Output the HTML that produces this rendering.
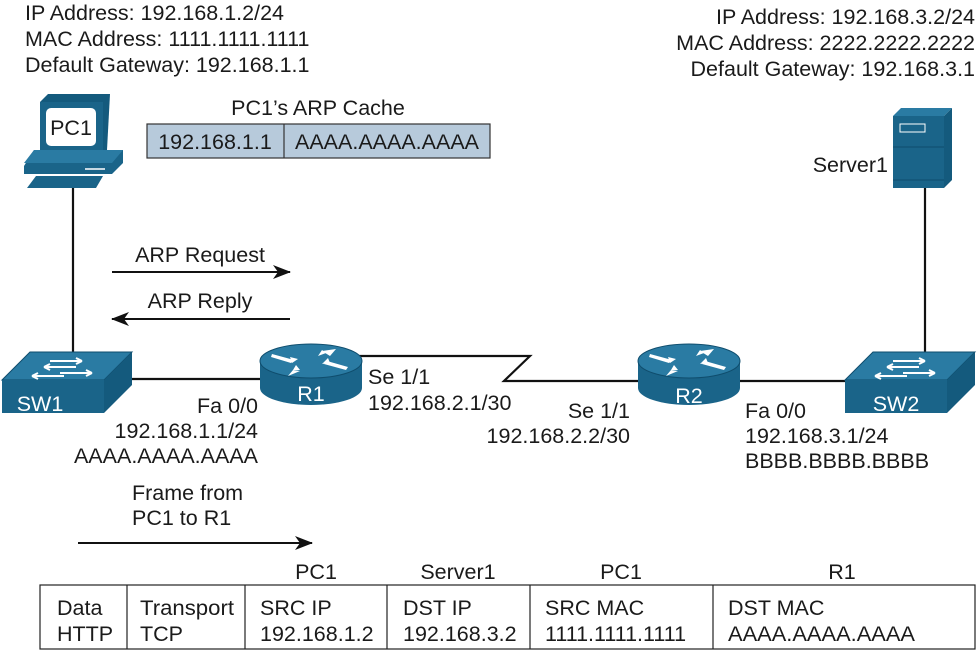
<!DOCTYPE html>
<html><head><meta charset="utf-8"><style>
html,body{margin:0;padding:0;background:#fff;}
svg{display:block;}
text{font-family:"Liberation Sans",sans-serif;font-size:21.5px;fill:#1a1a1a;}
.w{fill:#fff;}
</style></head><body>
<svg width="978" height="667" viewBox="0 0 978 667" xmlns="http://www.w3.org/2000/svg">
<defs>
<marker id="ah" markerWidth="18" markerHeight="14" refX="17" refY="7" orient="auto" markerUnits="userSpaceOnUse"><path d="M0,0 L18,7 L0,14 L5,7 Z" fill="#111"/></marker>
<g id="router">
<path d="M0,17 L0,44 A51,17 0 0 0 102,44 L102,17 Z" fill="#1a6489"/>
<ellipse cx="51" cy="17" rx="51" ry="17" fill="#2a7ba3" stroke="#0f4d6d" stroke-width="1"/>
<path d="M12,10 L34,16 L31,19 L11,13 Z M40,27 L28,32 L33,26 Z M62,7 L76,5 L70,12 Z M86,26 L64,20 L67,17 L88,23 Z" fill="#fff"/>
<path d="M30,13 l8,2 -6,4z M58,12 l4,-6 4,3z M40,26 l-4,-5 -3,5z M62,20 l6,-6 2,5z" fill="#fff"/>
</g>
<g id="switch">
<path d="M0,28 L28,0 L130,0 L102,28 Z" fill="#2a7ba3" stroke="#0f4d6d" stroke-width="1"/>
<path d="M102,28 L130,0 L130,33 L102,61 Z" fill="#145a7d"/>
<rect x="0" y="28" width="102" height="33" fill="#1a6489"/>
<path d="M48,9 L80,9 M80,9 l-6,-3 M80,9 l-6,3 M74,15 L42,15 M42,15 l6,-3 M42,15 l6,3 M58,21 L90,21 M90,21 l-6,-3 M90,21 l-6,3 M62,24 L30,24 M30,24 l6,-3 M30,24 l6,3" stroke="#fff" stroke-width="2" fill="none"/>
</g>
</defs>

<text x="25" y="20">IP Address: 192.168.1.2/24</text>
<text x="25" y="46">MAC Address: 1111.1111.1111</text>
<text x="25" y="72">Default Gateway: 192.168.1.1</text>
<text x="975" y="24" text-anchor="end">IP Address: 192.168.3.2/24</text>
<text x="975" y="50" text-anchor="end">MAC Address: 2222.2222.2222</text>
<text x="975" y="76" text-anchor="end">Default Gateway: 192.168.3.1</text>

<text x="318" y="115" text-anchor="middle">PC1’s ARP Cache</text>
<rect x="147" y="124" width="343" height="34" fill="#b7cadb" stroke="#333" stroke-width="1.2"/>
<line x1="284" y1="124" x2="284" y2="158" stroke="#333" stroke-width="1.2"/>
<text x="215" y="149" text-anchor="middle">192.168.1.1</text>
<text x="387" y="149" text-anchor="middle">AAAA.AAAA.AAAA</text>

<g stroke="#111" stroke-width="2.2" fill="none">
<line x1="73" y1="186" x2="73" y2="352"/>
<line x1="130" y1="379" x2="262" y2="379"/>
<polyline points="358,356 530,356 504,381 640,381"/>
<line x1="738" y1="381" x2="848" y2="381"/>
<line x1="925" y1="188" x2="925" y2="352"/>
</g>

<g>
<path d="M40,102 L48,94 L110,94 L107,150 L40,152 Z" fill="#145a7d"/>
<rect x="40" y="102" width="63" height="50" fill="#1a6489"/>
<rect x="46" y="108" width="50" height="38" rx="5" fill="#fff"/>
<text x="71" y="135" text-anchor="middle">PC1</text>
<path d="M24,166 L34,150 L123,150 L123,163 L112,174 L24,174 Z" fill="#1a6489"/>
<path d="M34,150 L123,150 L112,163 L24,163 Z" fill="#2a7ba3"/>
<line x1="85" y1="169" x2="105" y2="169" stroke="#fff" stroke-width="1.5"/>
<path d="M27,188 L36,176 L103,176 L96,188 Z" fill="#1a6489"/>
</g>

<g>
<path d="M893,116 L901,108 L952,108 L944,116 Z" fill="#2a7ba3"/>
<path d="M944,116 L952,108 L952,180 L944,188 Z" fill="#145a7d"/>
<rect x="893" y="116" width="51" height="72" fill="#1a6489"/>
<rect x="900" y="124" width="25" height="8" fill="none" stroke="#fff" stroke-width="1"/>
<line x1="893" y1="147" x2="944" y2="147" stroke="#0f4d6d"/>
<line x1="893" y1="180" x2="944" y2="180" stroke="#0f4d6d"/>
</g>
<text x="888" y="172" text-anchor="end">Server1</text>

<use href="#switch" x="2" y="352"/>
<text x="40" y="411" class="w" text-anchor="middle">SW1</text>
<use href="#switch" x="845" y="352"/>
<text x="896" y="411" class="w" text-anchor="middle">SW2</text>

<use href="#router" x="260" y="344"/>
<text x="311" y="401" class="w" text-anchor="middle">R1</text>
<use href="#router" x="638" y="344"/>
<text x="689" y="403" class="w" text-anchor="middle">R2</text>

<text x="200" y="262" text-anchor="middle">ARP Request</text>
<line x1="112" y1="272" x2="290" y2="272" stroke="#111" stroke-width="2" marker-end="url(#ah)"/>
<text x="200" y="308" text-anchor="middle">ARP Reply</text>
<line x1="290" y1="319" x2="112" y2="319" stroke="#111" stroke-width="2" marker-end="url(#ah)"/>

<text x="258" y="413" text-anchor="end">Fa 0/0</text>
<text x="258" y="438" text-anchor="end">192.168.1.1/24</text>
<text x="258" y="463" text-anchor="end">AAAA.AAAA.AAAA</text>
<text x="368" y="384">Se 1/1</text>
<text x="368" y="410">192.168.2.1/30</text>
<text x="630" y="418" text-anchor="end">Se 1/1</text>
<text x="630" y="443" text-anchor="end">192.168.2.2/30</text>
<text x="745" y="418">Fa 0/0</text>
<text x="745" y="443">192.168.3.1/24</text>
<text x="745" y="468">BBBB.BBBB.BBBB</text>

<text x="132" y="500">Frame from</text>
<text x="132" y="525">PC1 to R1</text>
<line x1="78" y1="543" x2="312" y2="543" stroke="#111" stroke-width="2" marker-end="url(#ah)"/>

<text x="316" y="579" text-anchor="middle">PC1</text>
<text x="458" y="579" text-anchor="middle">Server1</text>
<text x="621" y="579" text-anchor="middle">PC1</text>
<text x="842" y="579" text-anchor="middle">R1</text>
<rect x="40" y="585" width="935" height="64" fill="#fff" stroke="#222" stroke-width="1.2"/>
<g stroke="#222" stroke-width="1.2">
<line x1="127" y1="585" x2="127" y2="649"/>
<line x1="245" y1="585" x2="245" y2="649"/>
<line x1="387" y1="585" x2="387" y2="649"/>
<line x1="530" y1="585" x2="530" y2="649"/>
<line x1="713" y1="585" x2="713" y2="649"/>
</g>
<g>
<text x="57" y="615">Data</text><text x="57" y="641">HTTP</text>
<text x="140" y="615" textLength="94" lengthAdjust="spacingAndGlyphs">Transport</text><text x="140" y="641">TCP</text>
<text x="260" y="615">SRC IP</text><text x="260" y="641">192.168.1.2</text>
<text x="403" y="615">DST IP</text><text x="403" y="641">192.168.3.2</text>
<text x="545" y="615">SRC MAC</text><text x="545" y="641">1111.1111.1111</text>
<text x="728" y="615">DST MAC</text><text x="728" y="641" textLength="187" lengthAdjust="spacingAndGlyphs">AAAA.AAAA.AAAA</text>
</g>
</svg>
</body></html>
